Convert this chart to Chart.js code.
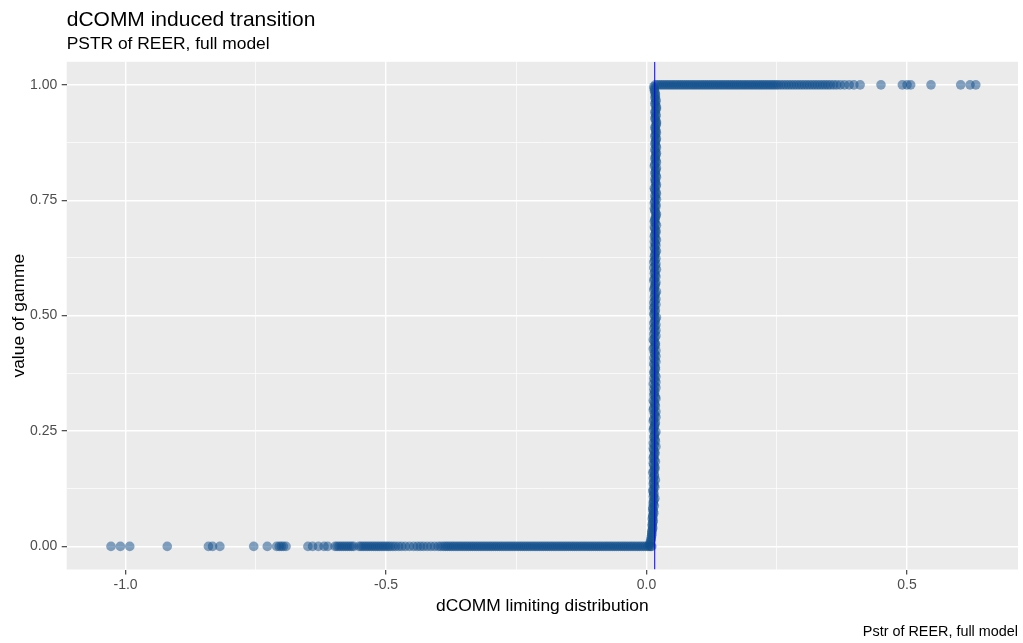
<!DOCTYPE html>
<html>
<head>
<meta charset="utf-8">
<script src="https://cdn.jsdelivr.net/npm/chart.js@4.4.1/dist/chart.umd.min.js"></script>
<style>
  body { margin: 0; background: #fff; }
  canvas { display: block; }
</style>
</head>
<body>
<canvas id="chart" width="1023" height="643"></canvas>
<script>
// tick labels shown on the axes
const xTickLabels = [-1.0, -0.5, 0.0, 0.5];
const yTickLabels = [0, 0.25, 0.5, 0.75, 1.0];

// estimated threshold (vertical blue line)
const threshold = 0.0157;

// points sitting on gamma = 0
const lowX = [
  -1.028, -1.010, -0.992, -0.920, -0.841, -0.833, -0.819, -0.754, -0.728, -0.710, -0.705, -0.701, -0.697, -0.692,
  -0.650, -0.641, -0.630, -0.619, -0.612, -0.598, -0.594, -0.590, -0.586, -0.582, -0.578, -0.574, -0.570, -0.566, -0.562,
  -0.552, -0.548, -0.544, -0.540, -0.536, -0.532, -0.528, -0.524, -0.520, -0.516, -0.512, -0.508, -0.504, -0.500,
  -0.496, -0.492, -0.487, -0.482, -0.476, -0.470, -0.463, -0.455, -0.447, -0.440, -0.434, -0.428, -0.421, -0.414,
  -0.407, -0.400, -0.395, -0.390, -0.386, -0.382, -0.378,
  -0.374, -0.370, -0.366, -0.362, -0.358, -0.354, -0.350, -0.346, -0.342, -0.338, -0.334, -0.330, -0.326, -0.322,
  -0.318, -0.314, -0.310, -0.306, -0.302, -0.298, -0.294, -0.290, -0.286, -0.282, -0.278, -0.274, -0.270, -0.266,
  -0.262, -0.258, -0.254, -0.250, -0.246, -0.242, -0.238, -0.234, -0.230, -0.226, -0.222, -0.218, -0.214, -0.210,
  -0.206, -0.202, -0.198, -0.194, -0.190, -0.186, -0.182, -0.178, -0.174, -0.170, -0.166, -0.162, -0.158, -0.154,
  -0.150, -0.146, -0.142, -0.138, -0.134, -0.130, -0.126, -0.122, -0.118, -0.114, -0.110, -0.106, -0.102, -0.098,
  -0.094, -0.090, -0.086, -0.082, -0.078, -0.074, -0.070, -0.066, -0.062, -0.058, -0.054, -0.050, -0.046, -0.042,
  -0.038, -0.034, -0.030, -0.026, -0.022, -0.018, -0.014, -0.010, -0.006, -0.002, 0.002, 0.005, 0.008, 0.010
];

// points along the transition, [x, gamma]
const midPoints = [
  [0.006,0.004],[0.008,0.012],[0.009,0.020],[0.010,0.028],[0.011,0.036],[0.011,0.044],[0.012,0.052],[0.011,0.060],
  [0.012,0.068],[0.013,0.076],[0.012,0.084],[0.013,0.092],[0.014,0.100],[0.013,0.108],[0.014,0.116],[0.013,0.124],
  [0.015,0.132],[0.014,0.140],[0.013,0.148],[0.015,0.156],[0.014,0.164],[0.016,0.172],[0.013,0.180],[0.015,0.188],
  [0.014,0.196],[0.016,0.204],[0.013,0.212],[0.015,0.220],[0.017,0.228],[0.014,0.236],[0.016,0.244],[0.013,0.252],
  [0.015,0.260],[0.017,0.268],[0.014,0.276],[0.016,0.284],[0.018,0.292],[0.014,0.300],[0.016,0.308],[0.013,0.316],
  [0.017,0.324],[0.015,0.332],[0.014,0.340],[0.016,0.348],[0.018,0.356],[0.014,0.364],[0.016,0.372],[0.015,0.380],
  [0.017,0.388],[0.014,0.396],[0.016,0.404],[0.018,0.412],[0.015,0.420],[0.013,0.428],[0.017,0.436],[0.015,0.444],
  [0.016,0.452],[0.014,0.460],[0.018,0.468],[0.016,0.476],[0.014,0.484],[0.017,0.492],[0.015,0.500],[0.016,0.508],
  [0.014,0.516],[0.018,0.524],[0.016,0.532],[0.015,0.540],[0.017,0.548],[0.014,0.556],[0.016,0.564],[0.018,0.572],
  [0.015,0.580],[0.017,0.588],[0.016,0.596],[0.014,0.604],[0.018,0.612],[0.016,0.620],[0.015,0.628],[0.017,0.636],
  [0.016,0.644],[0.018,0.652],[0.015,0.660],[0.017,0.668],[0.016,0.676],[0.018,0.684],[0.015,0.692],[0.017,0.700],
  [0.016,0.708],[0.018,0.716],[0.017,0.724],[0.015,0.732],[0.018,0.740],[0.016,0.748],[0.017,0.756],[0.019,0.764],
  [0.016,0.772],[0.018,0.780],[0.017,0.788],[0.016,0.796],[0.018,0.804],[0.017,0.812],[0.019,0.820],[0.016,0.828],
  [0.018,0.836],[0.017,0.844],[0.019,0.852],[0.016,0.860],[0.018,0.868],[0.017,0.876],[0.019,0.884],[0.017,0.892],
  [0.018,0.900],[0.016,0.908],[0.019,0.916],[0.017,0.924],[0.018,0.932],[0.016,0.940],[0.019,0.948],[0.017,0.956],
  [0.018,0.964],[0.016,0.972],[0.017,0.980],[0.015,0.988],[0.014,0.996]
];

// more points along the transition, [x, gamma]
const midPoints2 = [
  [0.007,0.008],[0.009,0.016],[0.010,0.024],[0.010,0.032],[0.012,0.040],[0.011,0.048],[0.013,0.056],[0.012,0.064],
  [0.014,0.072],[0.012,0.080],[0.015,0.088],[0.013,0.096],[0.016,0.104],[0.014,0.112],[0.012,0.120],[0.016,0.128],
  [0.013,0.136],[0.017,0.144],[0.015,0.152],[0.012,0.160],[0.016,0.168],[0.014,0.176],[0.017,0.184],[0.013,0.192],
  [0.016,0.200],[0.014,0.208],[0.018,0.216],[0.013,0.224],[0.016,0.232],[0.015,0.240],[0.018,0.248],[0.014,0.256],
  [0.016,0.264],[0.013,0.272],[0.018,0.280],[0.015,0.288],[0.013,0.296],[0.017,0.304],[0.015,0.312],[0.018,0.320],
  [0.014,0.328],[0.016,0.336],[0.018,0.344],[0.013,0.352],[0.016,0.360],[0.018,0.368],[0.014,0.376],[0.017,0.384],
  [0.015,0.392],[0.018,0.400],[0.014,0.408],[0.016,0.416],[0.018,0.424],[0.015,0.432],[0.017,0.440],[0.013,0.448],
  [0.018,0.456],[0.016,0.464],[0.014,0.472],[0.018,0.480],[0.016,0.488],[0.019,0.496],[0.014,0.504],[0.017,0.512],
  [0.015,0.520],[0.014,0.528],[0.018,0.536],[0.016,0.544],[0.019,0.552],[0.015,0.560],[0.017,0.568],[0.014,0.576],
  [0.018,0.584],[0.015,0.592],[0.019,0.600],[0.017,0.608],[0.014,0.616],[0.018,0.624],[0.016,0.632],[0.019,0.640],
  [0.015,0.648],[0.017,0.656],[0.019,0.664],[0.015,0.672],[0.018,0.680],[0.016,0.688],[0.019,0.696],[0.015,0.704],
  [0.017,0.712],[0.019,0.720],[0.016,0.728],[0.018,0.736],[0.015,0.744],[0.019,0.752],[0.016,0.760],[0.018,0.768],
  [0.015,0.776],[0.019,0.784],[0.017,0.792],[0.019,0.800],[0.016,0.808],[0.018,0.816],[0.015,0.824],[0.019,0.832],
  [0.016,0.840],[0.018,0.848],[0.017,0.856],[0.019,0.864],[0.016,0.872],[0.018,0.880],[0.016,0.888],[0.019,0.896],
  [0.017,0.904],[0.018,0.912],[0.019,0.920],[0.016,0.928],[0.018,0.936],[0.017,0.944],[0.019,0.952],[0.016,0.960],
  [0.018,0.968],[0.017,0.976],[0.016,0.984],[0.015,0.992]
];

// points sitting on gamma = 1
const highX = [
  0.017, 0.021, 0.025, 0.029, 0.033, 0.037, 0.041, 0.045, 0.049, 0.053, 0.057, 0.061, 0.065, 0.069, 0.073,
  0.077, 0.081, 0.085, 0.089, 0.093, 0.097, 0.101, 0.105, 0.109, 0.113, 0.117, 0.121, 0.125, 0.129, 0.133,
  0.137, 0.141, 0.145, 0.149, 0.153, 0.157, 0.161, 0.165, 0.169, 0.173, 0.177, 0.181, 0.185, 0.189, 0.193,
  0.197, 0.201, 0.205, 0.209, 0.213, 0.217, 0.221, 0.225, 0.229, 0.233, 0.237, 0.241, 0.245, 0.249, 0.253,
  0.258, 0.263, 0.268, 0.273, 0.278, 0.283, 0.288, 0.293, 0.298, 0.303, 0.308, 0.313, 0.318, 0.323, 0.328,
  0.333, 0.338, 0.343, 0.348, 0.353,
  0.359, 0.365, 0.372, 0.380, 0.389, 0.398, 0.410, 0.450, 0.491, 0.500, 0.507, 0.546, 0.603, 0.621, 0.632
];

const FONT = '"Liberation Sans", Arial, sans-serif';
const pointColor = 'rgba(16, 78, 139, 0.5)';

const points = [];
lowX.forEach(x => points.push({ x: x, y: 0 }));
midPoints.forEach(p => points.push({ x: p[0], y: p[1] }));
midPoints2.forEach(p => points.push({ x: p[0], y: p[1] }));
highX.forEach(x => points.push({ x: x, y: 1 }));

const isMajorX = v => xTickLabels.some(t => Math.abs(t - v) < 1e-6);
const isMajorY = v => yTickLabels.some(t => Math.abs(t - v) < 1e-6);

// grey panel behind the grid
const panelBg = {
  id: 'panelBg',
  beforeDraw(chart) {
    const { ctx, chartArea } = chart;
    ctx.save();
    ctx.fillStyle = '#EBEBEB';
    ctx.fillRect(chartArea.left, chartArea.top, chartArea.right - chartArea.left, chartArea.bottom - chartArea.top);
    ctx.restore();
  }
};

// caption at bottom right
const caption = {
  id: 'caption',
  afterDraw(chart) {
    const ctx = chart.ctx;
    ctx.save();
    ctx.font = '14.4px ' + FONT;
    ctx.fillStyle = '#000';
    ctx.textAlign = 'right';
    ctx.textBaseline = 'alphabetic';
    ctx.fillText('Pstr of REER, full model', chart.chartArea.right, 636);
    ctx.restore();
  }
};

Chart.defaults.font.family = FONT;

new Chart(document.getElementById('chart'), {
  type: 'scatter',
  data: {
    datasets: [
      {
        type: 'line',
        data: [{ x: threshold, y: -0.05 }, { x: threshold, y: 1.05 }],
        borderColor: '#0000FF',
        borderWidth: 1,
        pointRadius: 0,
        showLine: true,
        fill: false
      },
      {
        data: points,
        backgroundColor: pointColor,
        pointBackgroundColor: pointColor,
        borderWidth: 0,
        pointBorderWidth: 0,
        pointRadius: 4.8,
        pointHoverRadius: 4.8
      }
    ]
  },
  options: {
    responsive: false,
    animation: false,
    events: [],
    layout: { padding: { left: 0, right: 5, top: 0, bottom: 26.2 } },
    plugins: {
      legend: { display: false },
      tooltip: { enabled: false },
      title: {
        display: true,
        text: 'dCOMM induced transition',
        align: 'start',
        fullSize: false,
        color: '#000',
        font: { size: 21, weight: 'normal' },
        padding: { top: 7.4, bottom: 0 }
      },
      subtitle: {
        display: true,
        text: 'PSTR of REER, full model',
        align: 'start',
        fullSize: false,
        color: '#000',
        font: { size: 17.4 },
        padding: { top: 1.6, bottom: 6.7 }
      }
    },
    scales: {
      x: {
        type: 'linear',
        min: -1.113,
        max: 0.713,
        border: { display: false },
        grid: {
          color: '#FFFFFF',
          lineWidth: c => isMajorX(c.tick.value) ? 1.4 : 0.7,
          tickLength: 5,
          tickWidth: 1.1,
          tickColor: c => isMajorX(c.tick.value) ? '#333333' : 'rgba(0,0,0,0)'
        },
        ticks: {
          stepSize: 0.25,
          includeBounds: false,
          autoSkip: false,
          maxRotation: 0,
          maxTicksLimit: 20,
          color: '#4D4D4D',
          font: { size: 14 },
          padding: 2,
          callback: v => isMajorX(v) ? v.toFixed(1) : ''
        },
        title: {
          display: true,
          text: 'dCOMM limiting distribution',
          color: '#000',
          font: { size: 17.4 },
          padding: { top: 0, bottom: 0 }
        },
        afterFit: s => { s.height = 47.3; }
      },
      y: {
        type: 'linear',
        min: -0.05,
        max: 1.05,
        border: { display: false },
        grid: {
          color: '#FFFFFF',
          lineWidth: c => isMajorY(c.tick.value) ? 1.4 : 0.7,
          tickLength: 5,
          tickWidth: 1.1,
          tickColor: c => isMajorY(c.tick.value) ? '#333333' : 'rgba(0,0,0,0)'
        },
        ticks: {
          stepSize: 0.125,
          includeBounds: false,
          autoSkip: false,
          maxTicksLimit: 20,
          color: '#4D4D4D',
          font: { size: 14 },
          padding: 4.4,
          callback: v => isMajorY(v) ? v.toFixed(2) : ''
        },
        title: {
          display: true,
          text: 'value of gamme',
          color: '#000',
          font: { size: 17.4 },
          padding: { top: 8.6, bottom: 0 }
        },
        afterFit: s => { s.width = 66.7; }
      }
    }
  },
  plugins: [panelBg, caption]
});
</script>
</body>
</html>
